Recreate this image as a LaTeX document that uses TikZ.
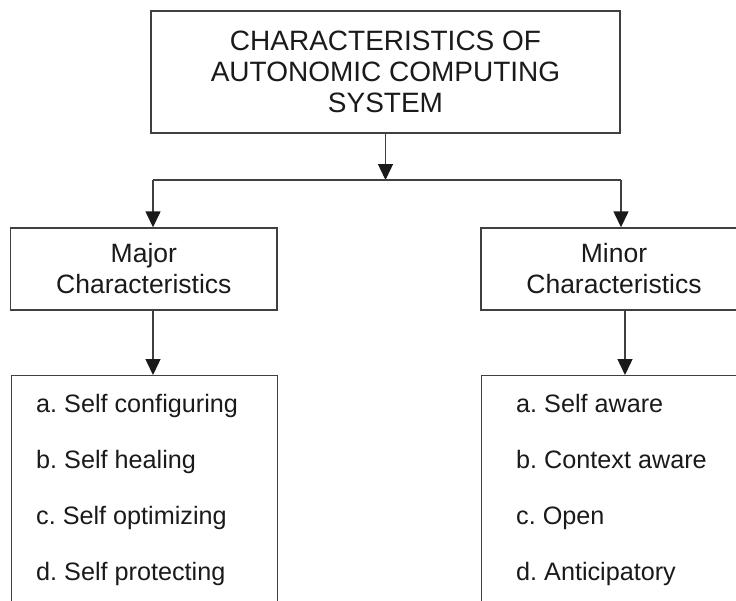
\documentclass[tikz,border=0pt]{standalone}
\usepackage{fontspec}
\setmainfont{Liberation Sans}
\usetikzlibrary{arrows.meta}
\definecolor{ink}{HTML}{1A1A1A}
\definecolor{rule}{HTML}{404040}
\frenchspacing
\begin{document}
\begin{tikzpicture}[x=1pt,y=-1pt,
  box/.style={draw=rule, line width=1.4pt, inner sep=0pt, text=ink, align=center},
  conn/.style={draw=rule, line width=1.4pt},
  arr/.style={conn, -{Triangle[length=16pt,width=15pt,fill=ink,color=ink]}},
  headfont/.style={font=\fontsize{28}{31}\selectfont},
  subfont/.style={font=\fontsize{26.5}{31}\selectfont},
  itemtext/.style={inner sep=0pt, text=ink, anchor=base west, font=\fontsize{25.2}{30}\selectfont}]
\useasboundingbox (0,0) rectangle (736,600);
\clip (0,0) rectangle (736,600);

% title box
\node[box, headfont, minimum width=469pt, minimum height=122pt] (top) at (385.5,72)
  {CHARACTERISTICS OF\\AUTONOMIC COMPUTING\\SYSTEM};

% second level
\node[box, subfont, minimum width=266.3pt, minimum height=82pt] (major) at (143.85,269)
  {Major\\Characteristics};
\node[box, subfont, minimum width=266pt, minimum height=82pt] (minor) at (614,269)
  {Minor\\Characteristics};

% list boxes
\node[box, minimum width=266.3pt, minimum height=260pt, anchor=north west] (majlist) at (10.7,375) {};
\node[box, minimum width=266pt, minimum height=260pt, anchor=north west] (minlist) at (481,375) {};

% list entries
\foreach \t [count=\i] in {a. Self configuring, b. Self healing, c. Self optimizing, d. Self protecting}
  \node[itemtext] (maj-\i) at (36, 412 + 56*\i - 56) {\t};
\foreach \t [count=\i] in {a. Self aware, b. Context aware, c. Open, d. Anticipatory}
  \node[itemtext] (min-\i) at (516, 412 + 56*\i - 56) {\t};

% connectors
\coordinate (split) at (385.5,180);
\coordinate (jl) at (153,180);
\coordinate (jr) at (621,180);
\coordinate (rdrop) at (625,0);
\draw[arr] (top.south) -- (split);
\draw[conn] (jl) -- (jr);
\draw[arr] (jl) -- (jl |- major.north);
\draw[arr] (jr) -- (jr |- minor.north);
\draw[arr] (jl |- major.south) -- (jl |- majlist.north);
\draw[arr] (rdrop |- minor.south) -- (rdrop |- minlist.north);
\end{tikzpicture}
\end{document}
